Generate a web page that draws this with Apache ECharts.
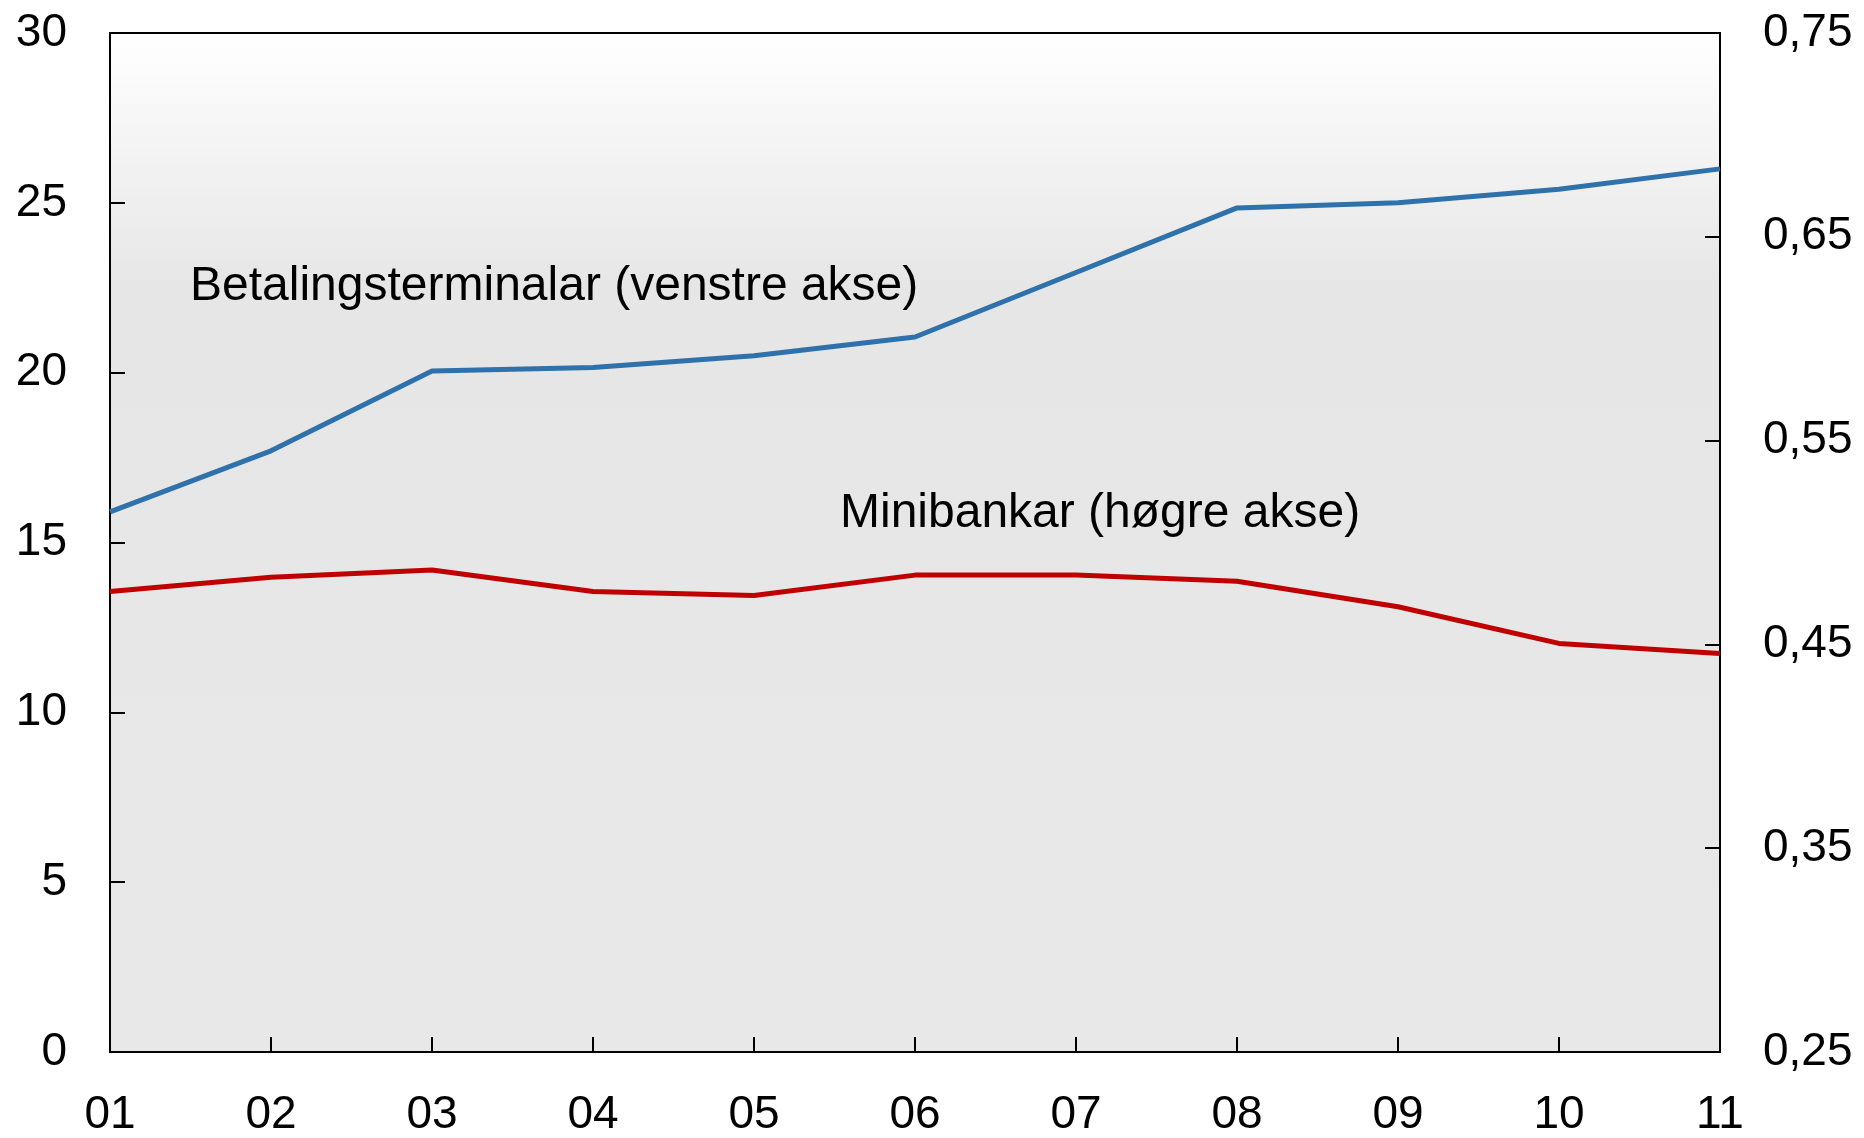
<!DOCTYPE html>
<html>
<head>
    <meta charset="utf-8">
    <title>Betalingsterminalar og minibankar</title>
    <script src="https://cdn.jsdelivr.net/npm/echarts@6/dist/echarts.min.js"></script>
    <style>
        html, body { margin: 0; padding: 0; background: #fff; }
    </style>
</head>
<body>
    <div id="main" style="width: 1864px;height:1138px;"></div>
    <script type="text/javascript">
        // år (x-aksen)
        var years = ['01', '02', '03', '04', '05', '06', '07', '08', '09', '10', '11'];
        // Betalingsterminalar, venstre akse
        var terminalar = [15.9, 17.7, 20.05, 20.15, 20.5, 21.05, 22.95, 24.85, 25.0, 25.4, 26.0];
        // Minibankar, høgre akse
        var minibankar = [0.476, 0.483, 0.4865, 0.476, 0.474, 0.484, 0.484, 0.481, 0.4685, 0.4505, 0.4455];

        var font = 'Liberation Sans, Arial, sans-serif';
        var myChart = echarts.init(document.getElementById('main'));

        var option = {
            animation: false,
            grid: {
                left: 110, right: 144, top: 33, bottom: 84,
                show: true,
                borderColor: '#000',
                borderWidth: 2,
                backgroundColor: new echarts.graphic.LinearGradient(0, 0, 0, 1, [
                    {offset: 0, color: '#ffffff'},
                    {offset: 0.25, color: '#e6e6e6'},
                    {offset: 1, color: '#e8e8e8'}
                ])
            },
            xAxis: {
                type: 'category',
                data: years,
                boundaryGap: false,
                axisLine: {lineStyle: {color: '#000', width: 2}},
                axisTick: {inside: true, length: 15, lineStyle: {color: '#000', width: 2}},
                axisLabel: {color: '#000', fontSize: 46, fontFamily: font, margin: 40},
                splitLine: {show: false}
            },
            yAxis: [
                {
                    type: 'value',
                    min: 0, max: 30, interval: 5,
                    axisLine: {show: true, lineStyle: {color: '#000', width: 2}},
                    axisTick: {show: true, inside: true, length: 15, lineStyle: {color: '#000', width: 2}},
                    axisLabel: {color: '#000', fontSize: 46, fontFamily: font, margin: 43},
                    splitLine: {show: false}
                },
                {
                    type: 'value',
                    min: 0.25, max: 0.75, interval: 0.1,
                    axisLine: {show: true, lineStyle: {color: '#000', width: 2}},
                    axisTick: {show: true, inside: true, length: 15, lineStyle: {color: '#000', width: 2}},
                    axisLabel: {
                        color: '#000', fontSize: 46, fontFamily: font, margin: 43,
                        formatter: function (v) { return v.toFixed(2).replace('.', ','); }
                    },
                    splitLine: {show: false}
                }
            ],
            series: [
                {
                    name: 'Betalingsterminalar',
                    type: 'line',
                    yAxisIndex: 0,
                    data: terminalar,
                    symbol: 'none',
                    lineStyle: {color: '#2f71aa', width: 5},
                    itemStyle: {color: '#2f71aa'}
                },
                {
                    name: 'Minibankar',
                    type: 'line',
                    yAxisIndex: 1,
                    data: minibankar,
                    symbol: 'none',
                    lineStyle: {color: '#c00000', width: 5},
                    itemStyle: {color: '#c00000'}
                }
            ],
            graphic: [
                {
                    type: 'text', left: 190, top: 263,
                    style: {text: 'Betalingsterminalar (venstre akse)', fontSize: 48, fontFamily: font, fill: '#000'}
                },
                {
                    type: 'text', left: 840, top: 490,
                    style: {text: 'Minibankar (høgre akse)', fontSize: 48, fontFamily: font, fill: '#000'}
                }
            ]
        };
        myChart.setOption(option);
    </script>
</body>
</html>
